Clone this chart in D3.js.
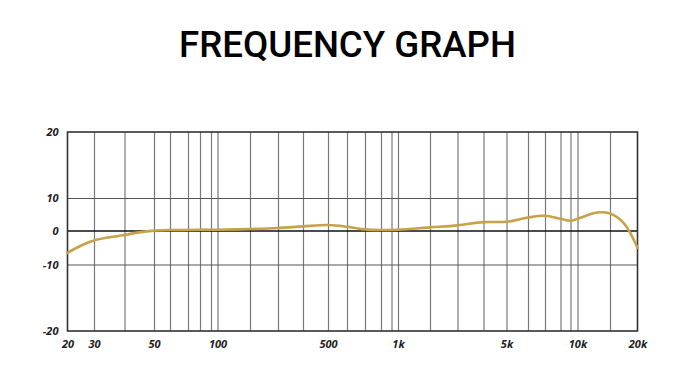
<!DOCTYPE html>
<html>
<head>
<meta charset="utf-8">
<script src="https://cdn.jsdelivr.net/npm/d3@7"></script>
<style>
  body { margin: 0; background: #fff; }
  text { font-family: "Open Sans", sans-serif; }
</style>
</head>
<body>
<script>
// response curve (Hz / dB)
var freqs = [20, 25, 30, 40, 45, 50, 60, 80, 100, 200, 300, 400, 500, 600, 700, 800, 1000,
  2000, 3000, 4000, 5000, 6000, 7000, 8000, 9000, 10000, 13000, 15000, 17500, 20000];
var levels = [-6.5, -4.4, -2.8, -1.2, -0.4, 0.1, 0.3, 0.4, 0.4, 0.6, 0.9, 1.4, 1.8, 1.3, 0.5, 0.3, 0.4,
  1.1, 1.7, 2.7, 2.8, 4.1, 4.6, 3.7, 3.1, 3.7, 5.6, 5.3, 2.4, -5.0];

// grid + ticks
var gridFreqs = [20, 30, 40, 50, 60, 70, 80, 90, 100, 200, 300, 400, 500, 600, 700, 800, 900, 1000,
  2000, 3000, 4000, 5000, 6000, 7000, 8000, 9000, 10000, 15000, 20000];
var xTickVals = [20, 30, 50, 100, 500, 1000, 5000, 10000, 20000];
var xTickLabels = ["20", "30", "50", "100", "500", "1k", "5k", "10k", "20k"];
var yTickVals = [20, 10, 0, -10, -20];

var W = 695, H = 377;
var svg = d3.select("body").append("svg")
  .attr("width", W)
  .attr("height", H);

// the original graph paper is hand spaced, so the scales are piecewise
var x = d3.scaleLinear()
  .domain(gridFreqs)
  .range([67.5, 94, 124.5, 154, 170, 188, 200, 211, 217.5, 250, 278, 303, 328, 347, 365, 381, 391.5, 398,
    430, 457.5, 483.5, 506.5, 528, 545, 560.5, 570.5, 577.5, 610, 637.5]);
var y = d3.scaleLinear()
  .domain([-20, -10, 0, 10, 20])
  .range([331, 264.5, 231, 198, 132]);

var x0 = x(20), x1 = x(20000), y0 = y(20), y1 = y(-20);

svg.append("text")
  .attr("x", W / 2)
  .attr("y", 57)
  .attr("text-anchor", "middle")
  .style("font-family", "Roboto, sans-serif")
  .style("font-weight", 500)
  .style("font-size", "37px")
  .attr("textLength", 337)
  .attr("lengthAdjust", "spacingAndGlyphs")
  .text("FREQUENCY GRAPH");

// vertical grid
svg.append("g")
  .attr("transform", "translate(0," + y1 + ")")
  .call(d3.axisBottom(x).tickValues(gridFreqs.slice(1, -1)).tickSize(-(y1 - y0)).tickFormat(""))
  .call(function (g) { g.select(".domain").remove(); })
  .selectAll("line")
  .attr("stroke", "#7a7a7a")
  .attr("stroke-width", 1.2);

// horizontal grid
svg.append("g")
  .attr("transform", "translate(" + x0 + ",0)")
  .call(d3.axisLeft(y).tickValues([10, -10]).tickSize(-(x1 - x0)).tickFormat(""))
  .call(function (g) { g.select(".domain").remove(); })
  .selectAll("line")
  .attr("stroke", "#555")
  .attr("stroke-width", 1.2);

// zero line
svg.append("line")
  .attr("x1", x0).attr("x2", x1)
  .attr("y1", y(0)).attr("y2", y(0))
  .attr("stroke", "#111")
  .attr("stroke-width", 1.6);

// frame
svg.append("rect")
  .attr("x", x0).attr("y", y0)
  .attr("width", x1 - x0).attr("height", y1 - y0)
  .attr("fill", "none")
  .attr("stroke", "#333")
  .attr("stroke-width", 1.6);

// response curve
var pts = freqs.map(function (f, i) { return [f, levels[i]]; });
svg.append("path")
  .datum(pts)
  .attr("fill", "none")
  .attr("stroke", "#c6a24a")
  .attr("stroke-width", 2.6)
  .attr("stroke-linecap", "round")
  .attr("d", d3.line()
    .x(function (d) { return x(d[0]); })
    .y(function (d) { return y(d[1]); })
    .curve(d3.curveCatmullRom.alpha(0.5)));

// tick labels
function labelStyle(sel) {
  sel.style("font-family", "'Open Sans', sans-serif")
    .style("font-size", "11px")
    .style("font-weight", 700)
    .style("font-style", "italic")
    .attr("fill", "#222");
}

var xAxis = svg.append("g")
  .attr("transform", "translate(0," + y1 + ")")
  .call(d3.axisBottom(x).tickValues(xTickVals).tickSize(0).tickPadding(9)
    .tickFormat(function (d, i) { return xTickLabels[i]; }));
xAxis.select(".domain").remove();
xAxis.selectAll("text").call(labelStyle);

var yAxis = svg.append("g")
  .attr("transform", "translate(" + x0 + ",0)")
  .call(d3.axisLeft(y).tickValues(yTickVals).tickSize(0).tickPadding(9)
    .tickFormat(function (d) { return String(d); }));
yAxis.select(".domain").remove();
yAxis.selectAll("text").call(labelStyle);
</script>
</body>
</html>
